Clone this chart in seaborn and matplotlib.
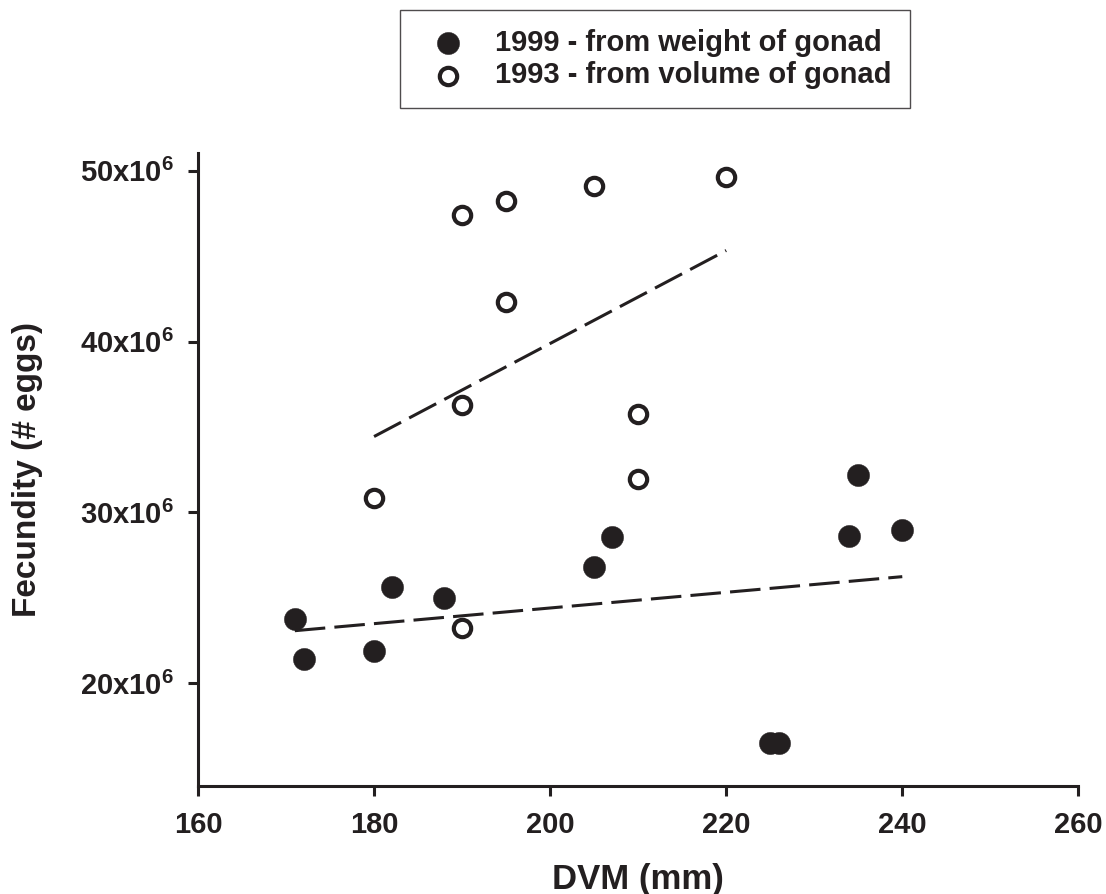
import numpy as np
import pandas as pd
import matplotlib
matplotlib.use('Agg')
import matplotlib.pyplot as plt
import seaborn as sns

# Data (fecundity in millions of eggs)
dvm_1999 = [171, 172, 180, 182, 188, 205, 207, 225, 226, 234, 235, 240]
fec_1999 = [23.75, 21.4, 21.9, 25.6, 25.0, 26.8, 28.55, 16.5, 16.5, 28.6, 32.2, 28.95]

dvm_1993 = [180, 190, 190, 190, 195, 195, 205, 210, 210, 220]
fec_1993 = [30.86, 23.22, 36.29, 47.4, 42.34, 48.24, 49.12, 35.74, 31.93, 49.66]

x_ticks = [160, 180, 200, 220, 240, 260]
y_ticks = [20, 30, 40, 50]
y_tick_labels = ['20x10$^{6}$', '30x10$^{6}$', '40x10$^{6}$', '50x10$^{6}$']

label_1999 = '1999 - from weight of gonad'
label_1993 = '1993 - from volume of gonad'

df_1999 = pd.DataFrame({'dvm': dvm_1999, 'fec': fec_1999})
df_1993 = pd.DataFrame({'dvm': dvm_1993, 'fec': fec_1993})

ink = '#231f20'

sns.set_style('ticks')
plt.rcParams['font.family'] = ['Liberation Sans', 'DejaVu Sans']
plt.rcParams['font.weight'] = 'bold'
plt.rcParams['mathtext.fontset'] = 'custom'
plt.rcParams['mathtext.rm'] = 'Liberation Sans:bold'
plt.rcParams['mathtext.it'] = 'Liberation Sans:bold'
plt.rcParams['mathtext.bf'] = 'Liberation Sans:bold'
plt.rcParams['mathtext.default'] = 'rm'

fig = plt.figure(figsize=(11.06, 8.94), dpi=100)
ax = fig.add_axes([0.179, 0.1208, 0.796, 0.7081])

# scatter points
sns.scatterplot(data=df_1999, x='dvm', y='fec', ax=ax, marker='o', s=256,
                color=ink, edgecolor=ink, linewidth=0.3, label=label_1999, zorder=3)
sns.scatterplot(data=df_1993, x='dvm', y='fec', ax=ax, marker='o', s=156,
                facecolor='white', edgecolor=ink, linewidth=3, label=label_1993, zorder=3)

# dashed regression lines
for d in (df_1999, df_1993):
    sns.regplot(data=d, x='dvm', y='fec', ax=ax, scatter=False, ci=None,
                line_kws={'color': ink, 'lw': 2.2, 'dashes': (10, 3)})

ax.set_xlim(160, 260)
ax.set_ylim(13.97, 51.05)
ax.set_xticks(x_ticks)
ax.set_yticks(y_ticks)
ax.set_yticklabels(y_tick_labels)

for s in ['top', 'right']:
    ax.spines[s].set_visible(False)
for s in ['left', 'bottom']:
    ax.spines[s].set_linewidth(2.2)
    ax.spines[s].set_color(ink)

ax.tick_params(axis='both', direction='out', length=7, width=2.2, color=ink,
               labelsize=21, labelcolor=ink)
ax.tick_params(axis='x', pad=11)
ax.tick_params(axis='y', pad=10)

ax.set_xlabel('DVM (mm)', fontsize=25, fontweight='bold', color=ink, labelpad=17)
ax.set_ylabel('Fecundity (# eggs)', fontsize=24, fontweight='bold', color=ink, labelpad=27)

leg = ax.legend(loc='upper left', bbox_to_anchor=(0.3617, 0.989),
                bbox_transform=fig.transFigure, frameon=True, fancybox=False,
                prop={'size': 21, 'weight': 'bold'}, borderpad=0.65,
                handlelength=2.0, handletextpad=0.6, labelspacing=0.15,
                borderaxespad=0)
leg.get_frame().set_edgecolor(ink)
leg.get_frame().set_linewidth(1.0)
for t in leg.get_texts():
    t.set_color(ink)

plt.savefig('out.png', dpi=100)
